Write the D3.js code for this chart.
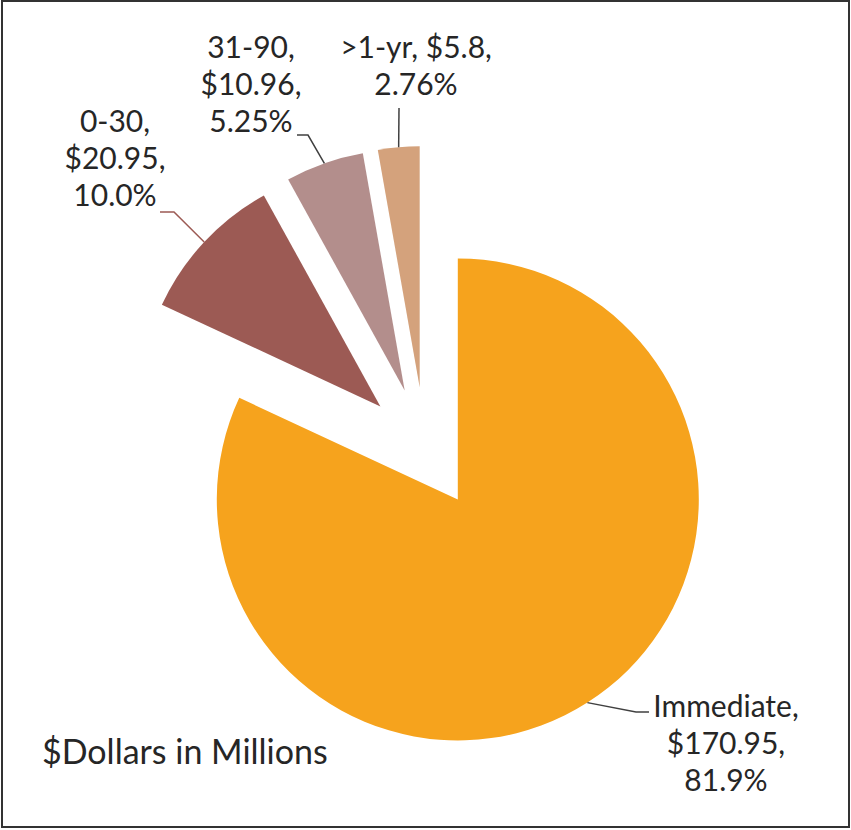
<!DOCTYPE html>
<html>
<head>
<meta charset="utf-8">
<script src="https://cdn.jsdelivr.net/npm/d3@7"></script>
<style>
  html, body { margin: 0; padding: 0; background: #fff; }
  svg text { font-family: Lato, "Open Sans", sans-serif; fill: #262626; }
</style>
</head>
<body>
<div id="chart"></div>
<script>
// aging buckets, $ in millions
const categories = ["Immediate", "0-30", "31-90", ">1-yr"]
const values = [170.95, 20.95, 10.96, 5.8]
const valueLabels = ["$170.95", "$20.95", "$10.96", "$5.8"]
const pctLabels = ["81.9%", "10.0%", "5.25%", "2.76%"]
const colors = ["#F6A31D", "#9C5A54", "#B38E8C", "#D4A27C"]
const leaderColors = ["#404040", "#9C5A54", "#404040", "#404040"]

const width = 851, height = 830
const cx = 425, cy = 448, radius = 241, explode = 61

// label boxes: centre x, first baseline, text lines, and leader path (elbow, end)
const labelLayout = [
  {x: 726, y: 717, lines: d => [d.name + ",", d.val + ",", d.pct], elbow: [636, 712], end: [649, 712]},
  {x: 115, y: 132, lines: d => [d.name + ",", d.val + ",", d.pct], elbow: [174, 212], end: [160, 212]},
  {x: 251, y: 58, lines: d => [d.name + ",", d.val + ",", d.pct], elbow: [308, 135], end: [297, 135]},
  {x: 416, y: 58, lines: d => [d.name + ", " + d.val + ",", d.pct], elbow: [399, 108], end: [399, 108]}
]

const rows = categories.map((c, i) => ({name: c, value: values[i], val: valueLabels[i], pct: pctLabels[i], i: i}))

const svg = d3.select("#chart").append("svg")
    .attr("width", width)
    .attr("height", height)

// outer frame
svg.append("rect")
    .attr("x", 2).attr("y", 1)
    .attr("width", width - 4).attr("height", height - 4)
    .style("fill", "none")
    .style("stroke", "#333")
    .style("stroke-width", 2)

const pie = d3.pie().sort(null).value(d => d.value)
const arc = d3.arc().innerRadius(0).outerRadius(radius)
const arcs = pie(rows)

const mid = d => (d.startAngle + d.endAngle) / 2
const offset = d => [explode * Math.sin(mid(d)), -explode * Math.cos(mid(d))]

const g = svg.append("g").attr("transform", "translate(" + cx + "," + cy + ")")

g.selectAll("path.slice")
  .data(arcs)
  .enter().append("path")
    .attr("class", "slice")
    .attr("transform", d => "translate(" + offset(d) + ")")
    .attr("d", arc)
    .style("fill", d => colors[d.data.i])

// leader lines from outer arc at mid angle
g.selectAll("path.leader")
  .data(arcs)
  .enter().append("path")
    .attr("class", "leader")
    .attr("d", d => {
      const o = offset(d), a = mid(d)
      const x0 = o[0] + radius * Math.sin(a), y0 = o[1] - radius * Math.cos(a)
      const L = labelLayout[d.data.i]
      return "M" + x0 + "," + y0 +
        "L" + (L.elbow[0] - cx) + "," + (L.elbow[1] - cy) +
        "L" + (L.end[0] - cx) + "," + (L.end[1] - cy)
    })
    .style("fill", "none")
    .style("stroke", d => leaderColors[d.data.i])
    .style("stroke-width", 1.5)

const lineH = 37
const labels = svg.selectAll("text.lbl")
  .data(rows)
  .enter().append("text")
    .attr("class", "lbl")
    .attr("text-anchor", "middle")
    .style("font-size", "30px")

labels.each(function(d) {
  const L = labelLayout[d.i]
  d3.select(this).selectAll("tspan")
    .data(L.lines(d))
    .enter().append("tspan")
      .attr("x", L.x)
      .attr("y", (t, k) => L.y + k * lineH)
      .text(t => t)
})

svg.append("text")
    .attr("x", 42)
    .attr("y", 764)
    .style("font-size", "34px")
    .text("$Dollars in Millions")
</script>
</body>
</html>
